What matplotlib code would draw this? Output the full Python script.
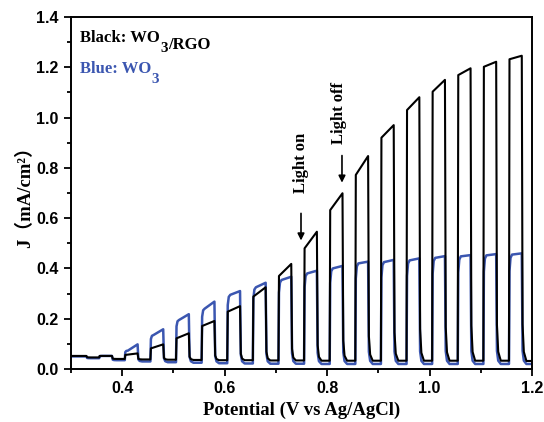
import matplotlib
matplotlib.use("Agg")
import matplotlib.pyplot as plt
from matplotlib.ticker import MultipleLocator, FormatStrFormatter

# light-on potentials (V), each light-on period lasts pulse_width
pulse_on = [0.305, 0.355, 0.405, 0.455, 0.505, 0.555, 0.605, 0.655, 0.705,
            0.755, 0.805, 0.855, 0.905, 0.955, 1.005, 1.055, 1.105, 1.155]
pulse_width = 0.025

# WO3/RGO (black): photocurrent at start / end of each light-on period, dark current after it
black_start = [0.052, 0.052, 0.056, 0.082, 0.122, 0.171, 0.228, 0.288, 0.370,
               0.480, 0.632, 0.772, 0.920, 1.030, 1.103, 1.169, 1.202, 1.232]
black_end = [0.052, 0.052, 0.062, 0.098, 0.142, 0.191, 0.250, 0.325, 0.418,
             0.546, 0.699, 0.847, 0.970, 1.081, 1.150, 1.196, 1.222, 1.246]
black_dark = [0.046, 0.040, 0.038, 0.037, 0.036, 0.035, 0.035, 0.034, 0.034,
              0.033, 0.033, 0.033, 0.033, 0.033, 0.033, 0.033, 0.033, 0.032]

# WO3 (blue)
blue_start = [0.050, 0.052, 0.073, 0.135, 0.195, 0.240, 0.295, 0.325, 0.354,
              0.380, 0.400, 0.420, 0.425, 0.432, 0.442, 0.448, 0.452, 0.455]
blue_end = [0.050, 0.052, 0.098, 0.158, 0.218, 0.268, 0.310, 0.343, 0.367,
            0.391, 0.410, 0.427, 0.434, 0.440, 0.449, 0.453, 0.457, 0.460]
blue_dark = [0.043, 0.035, 0.030, 0.027, 0.025, 0.023, 0.022, 0.021, 0.021,
             0.020, 0.020, 0.020, 0.020, 0.020, 0.020, 0.020, 0.020, 0.020]

BLUE = "#3b56b0"


def chopped_trace(starts, ends, darks, rounded):
    xs, ys = [0.30], [starts[0]]
    prev = starts[0]
    for on, s, e, d in zip(pulse_on, starts, ends, darks):
        off = on + pulse_width
        xs.append(on)
        ys.append(prev)
        if rounded:
            xs += [on + 0.001, on + 0.003, on + 0.006]
            ys += [prev + 0.85 * (s - prev), prev + 0.97 * (s - prev), s]
        else:
            xs += [on + 0.001]
            ys += [s]
        xs += [off, off + 0.0015, off + 0.004, off + 0.009]
        ys += [e, d + 0.12 * (e - d), d + 0.03 * (e - d), d]
        prev = d
    xs.append(1.2)
    ys.append(prev)
    return xs, ys


def label_with_sub(x, y, before, after, color):
    # "WO3" with a big, lowered subscript like the original figure
    kw = dict(fontsize=12, fontweight="bold", color=color)
    t1 = ax.text(x, y, before, va="baseline", **kw)
    t2 = ax.annotate("3", xy=(1, 0), xycoords=t1, xytext=(0.5, -4),
                     textcoords="offset points", va="baseline", fontsize=11,
                     fontweight="bold", color=color)
    if after:
        ax.annotate(after, xy=(1, 0), xycoords=t2, xytext=(0.3, 4),
                    textcoords="offset points", va="baseline", **kw)


plt.rcParams["font.family"] = ["Liberation Serif", "DejaVu Serif"]

fig = plt.figure(figsize=(5.44, 4.22), dpi=100)
ax = fig.add_axes([0.1305, 0.1256, 0.8475, 0.8341])

bx, by = chopped_trace(blue_start, blue_end, blue_dark, True)
ax.plot(bx, by, color=BLUE, lw=1.8)
kx, ky = chopped_trace(black_start, black_end, black_dark, False)
ax.plot(kx, ky, color="black", lw=1.5)

ax.set_xlim(0.3, 1.2)
ax.set_ylim(0, 1.4)
ax.xaxis.set_major_locator(MultipleLocator(0.2))
ax.xaxis.set_minor_locator(MultipleLocator(0.1))
ax.yaxis.set_major_locator(MultipleLocator(0.2))
ax.yaxis.set_minor_locator(MultipleLocator(0.1))
ax.xaxis.set_major_formatter(FormatStrFormatter("%.1f"))
ax.yaxis.set_major_formatter(FormatStrFormatter("%.1f"))
ax.tick_params(which="major", direction="out", length=5, width=1.3,
               top=False, right=False, pad=4)
ax.tick_params(which="minor", direction="out", length=3, width=1.3,
               top=False, right=False)
for lab in ax.get_xticklabels() + ax.get_yticklabels():
    lab.set_family("Liberation Sans")
    lab.set_fontweight("bold")
    lab.set_fontsize(11.5)
for sp in ax.spines.values():
    sp.set_linewidth(1.4)

ax.set_xlabel("Potential (V vs Ag/AgCl)", fontsize=13.5, fontweight="bold", labelpad=4)
ax.set_ylabel("J（mA/cm²）", fontsize=13.5, fontweight="bold", labelpad=1,
              family=["Liberation Serif", "Noto Sans CJK SC"])

label_with_sub(0.317, 1.30, "Black: WO", "/RGO", "black")
label_with_sub(0.317, 1.177, "Blue: WO", "", BLUE)

arrow = dict(arrowstyle="-|>", color="black", lw=1.2, mutation_scale=10)
ax.annotate("", xy=(0.749, 0.50), xytext=(0.749, 0.63), arrowprops=arrow)
ax.annotate("", xy=(0.829, 0.73), xytext=(0.829, 0.86), arrowprops=arrow)
ax.text(0.749, 0.82, "Light on", rotation=90, fontsize=12, fontweight="bold",
        ha="center", va="center")
ax.text(0.823, 1.02, "Light off", rotation=90, fontsize=12, fontweight="bold",
        ha="center", va="center")

fig.savefig("out.png", dpi=100)
